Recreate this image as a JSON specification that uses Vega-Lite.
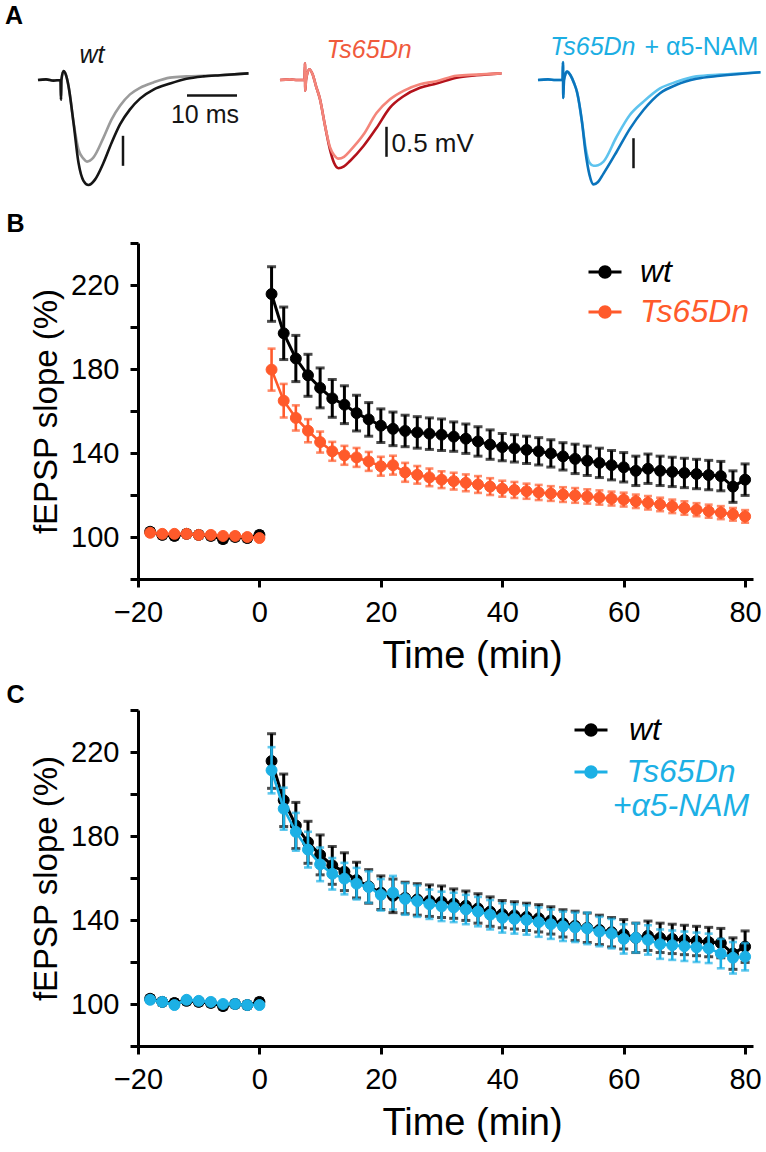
{
"$schema": "https://vega.github.io/schema/vega-lite/v6.json",
"padding": {"left": 5, "top": 4, "right": 0, "bottom": 0},
"config": {"font": "Liberation Sans", "view": {"stroke": null}, "title": {"font": "Liberation Sans", "color": "#000"}},
"datasets": {
"ltp": [
{"g":"wt","s":"pre","t":-18,"m":102.5,"e":1.5},{"g":"wt","s":"pre","t":-16,"m":101,"e":1.5},{"g":"wt","s":"pre","t":-14,"m":100.5,"e":1.5},{"g":"wt","s":"pre","t":-12,"m":101.5,"e":1.5},{"g":"wt","s":"pre","t":-10,"m":101,"e":1.5},{"g":"wt","s":"pre","t":-8,"m":100.5,"e":1.5},{"g":"wt","s":"pre","t":-6,"m":99,"e":1.5},{"g":"wt","s":"pre","t":-4,"m":100,"e":1.5},{"g":"wt","s":"pre","t":-2,"m":99.5,"e":1.5},{"g":"wt","s":"pre","t":0,"m":101,"e":1.5},
{"g":"wt","s":"post","t":2,"m":215.7,"e":13},{"g":"wt","s":"post","t":4,"m":197,"e":12.5},{"g":"wt","s":"post","t":6,"m":185,"e":11},{"g":"wt","s":"post","t":8,"m":177,"e":10},{"g":"wt","s":"post","t":10,"m":171,"e":9.5},{"g":"wt","s":"post","t":12,"m":166,"e":9},{"g":"wt","s":"post","t":14,"m":163,"e":9},{"g":"wt","s":"post","t":16,"m":159,"e":8.5},{"g":"wt","s":"post","t":18,"m":156,"e":8},{"g":"wt","s":"post","t":20,"m":153,"e":8},
{"g":"wt","s":"post","t":22,"m":151.5,"e":8},{"g":"wt","s":"post","t":24,"m":150.5,"e":7.5},{"g":"wt","s":"post","t":26,"m":149.8,"e":7.5},{"g":"wt","s":"post","t":28,"m":149.2,"e":7.5},{"g":"wt","s":"post","t":30,"m":148.7,"e":7.5},{"g":"wt","s":"post","t":32,"m":147.8,"e":7},{"g":"wt","s":"post","t":34,"m":146.8,"e":7},{"g":"wt","s":"post","t":36,"m":145.5,"e":7},{"g":"wt","s":"post","t":38,"m":144,"e":7},{"g":"wt","s":"post","t":40,"m":142.8,"e":6.5},
{"g":"wt","s":"post","t":42,"m":142.2,"e":6.5},{"g":"wt","s":"post","t":44,"m":141.5,"e":6.5},{"g":"wt","s":"post","t":46,"m":140.8,"e":6.5},{"g":"wt","s":"post","t":48,"m":139.8,"e":6.5},{"g":"wt","s":"post","t":50,"m":138.4,"e":6.5},{"g":"wt","s":"post","t":52,"m":137.2,"e":7},{"g":"wt","s":"post","t":54,"m":136.3,"e":7},{"g":"wt","s":"post","t":56,"m":135.3,"e":7},{"g":"wt","s":"post","t":58,"m":134.2,"e":7},{"g":"wt","s":"post","t":60,"m":133.2,"e":7},
{"g":"wt","s":"post","t":62,"m":131.5,"e":7},{"g":"wt","s":"post","t":64,"m":132.5,"e":7},{"g":"wt","s":"post","t":66,"m":131.5,"e":7},{"g":"wt","s":"post","t":68,"m":131,"e":7},{"g":"wt","s":"post","t":70,"m":130.5,"e":7},{"g":"wt","s":"post","t":72,"m":130,"e":7},{"g":"wt","s":"post","t":74,"m":129.5,"e":7},{"g":"wt","s":"post","t":76,"m":129,"e":7},{"g":"wt","s":"post","t":78,"m":124,"e":7.5},{"g":"wt","s":"post","t":80,"m":127.3,"e":7.5},
{"g":"Ts65Dn","s":"pre","t":-18,"m":102,"e":1.2},{"g":"Ts65Dn","s":"pre","t":-16,"m":101.5,"e":1.2},{"g":"Ts65Dn","s":"pre","t":-14,"m":101.5,"e":1.2},{"g":"Ts65Dn","s":"pre","t":-12,"m":101.5,"e":1.2},{"g":"Ts65Dn","s":"pre","t":-10,"m":101,"e":1.2},{"g":"Ts65Dn","s":"pre","t":-8,"m":101,"e":1.2},{"g":"Ts65Dn","s":"pre","t":-6,"m":100.5,"e":1.2},{"g":"Ts65Dn","s":"pre","t":-4,"m":100.5,"e":1.2},{"g":"Ts65Dn","s":"pre","t":-2,"m":100,"e":1.2},{"g":"Ts65Dn","s":"pre","t":0,"m":99.5,"e":1.2},
{"g":"Ts65Dn","s":"post","t":2,"m":179.7,"e":10},{"g":"Ts65Dn","s":"post","t":4,"m":164.9,"e":8},{"g":"Ts65Dn","s":"post","t":6,"m":156.7,"e":6},{"g":"Ts65Dn","s":"post","t":8,"m":150.6,"e":5.5},{"g":"Ts65Dn","s":"post","t":10,"m":145.2,"e":5},{"g":"Ts65Dn","s":"post","t":12,"m":140.8,"e":4.5},{"g":"Ts65Dn","s":"post","t":14,"m":138.9,"e":4.5},{"g":"Ts65Dn","s":"post","t":16,"m":137.9,"e":4.5},{"g":"Ts65Dn","s":"post","t":18,"m":136,"e":4.5},{"g":"Ts65Dn","s":"post","t":20,"m":133.7,"e":4.5},
{"g":"Ts65Dn","s":"post","t":22,"m":134.2,"e":4.5},{"g":"Ts65Dn","s":"post","t":24,"m":130.8,"e":4.5},{"g":"Ts65Dn","s":"post","t":26,"m":129.6,"e":4.2},{"g":"Ts65Dn","s":"post","t":28,"m":128.4,"e":4.2},{"g":"Ts65Dn","s":"post","t":30,"m":127.3,"e":4},{"g":"Ts65Dn","s":"post","t":32,"m":126.6,"e":4},{"g":"Ts65Dn","s":"post","t":34,"m":125.8,"e":4},{"g":"Ts65Dn","s":"post","t":36,"m":125,"e":4},{"g":"Ts65Dn","s":"post","t":38,"m":124,"e":4},{"g":"Ts65Dn","s":"post","t":40,"m":123,"e":3.8},
{"g":"Ts65Dn","s":"post","t":42,"m":122.4,"e":3.8},{"g":"Ts65Dn","s":"post","t":44,"m":121.8,"e":3.6},{"g":"Ts65Dn","s":"post","t":46,"m":121.2,"e":3.6},{"g":"Ts65Dn","s":"post","t":48,"m":120.7,"e":3.5},{"g":"Ts65Dn","s":"post","t":50,"m":120.2,"e":3.5},{"g":"Ts65Dn","s":"post","t":52,"m":119.8,"e":3.5},{"g":"Ts65Dn","s":"post","t":54,"m":119.3,"e":3.4},{"g":"Ts65Dn","s":"post","t":56,"m":118.8,"e":3.4},{"g":"Ts65Dn","s":"post","t":58,"m":118.3,"e":3.3},{"g":"Ts65Dn","s":"post","t":60,"m":117.8,"e":3.3},
{"g":"Ts65Dn","s":"post","t":62,"m":117,"e":3.2},{"g":"Ts65Dn","s":"post","t":64,"m":116.3,"e":3.2},{"g":"Ts65Dn","s":"post","t":66,"m":115.5,"e":3.2},{"g":"Ts65Dn","s":"post","t":68,"m":114.6,"e":3.2},{"g":"Ts65Dn","s":"post","t":70,"m":113.8,"e":3.2},{"g":"Ts65Dn","s":"post","t":72,"m":113,"e":3.1},{"g":"Ts65Dn","s":"post","t":74,"m":112.3,"e":3.1},{"g":"Ts65Dn","s":"post","t":76,"m":111.6,"e":3.1},{"g":"Ts65Dn","s":"post","t":78,"m":110.8,"e":3},{"g":"Ts65Dn","s":"post","t":80,"m":109.8,"e":3},
{"g":"NAM","s":"pre","t":-18,"m":102,"e":1.3},{"g":"NAM","s":"pre","t":-16,"m":101,"e":1.3},{"g":"NAM","s":"pre","t":-14,"m":99.5,"e":1.3},{"g":"NAM","s":"pre","t":-12,"m":102,"e":1.3},{"g":"NAM","s":"pre","t":-10,"m":101.5,"e":1.3},{"g":"NAM","s":"pre","t":-8,"m":101,"e":1.3},{"g":"NAM","s":"pre","t":-6,"m":100,"e":1.3},{"g":"NAM","s":"pre","t":-4,"m":100,"e":1.3},{"g":"NAM","s":"pre","t":-2,"m":99.5,"e":1.3},{"g":"NAM","s":"pre","t":0,"m":99.5,"e":1.3},
{"g":"NAM","s":"post","t":2,"m":211.3,"e":11},{"g":"NAM","s":"post","t":4,"m":193,"e":10},{"g":"NAM","s":"post","t":6,"m":182,"e":9},{"g":"NAM","s":"post","t":8,"m":173.5,"e":8.5},{"g":"NAM","s":"post","t":10,"m":166.5,"e":8},{"g":"NAM","s":"post","t":12,"m":162,"e":7.5},{"g":"NAM","s":"post","t":14,"m":159.7,"e":7.5},{"g":"NAM","s":"post","t":16,"m":157.3,"e":7.5},{"g":"NAM","s":"post","t":18,"m":155.7,"e":7.5},{"g":"NAM","s":"post","t":20,"m":152,"e":7.5},
{"g":"NAM","s":"post","t":22,"m":153,"e":8},{"g":"NAM","s":"post","t":24,"m":150,"e":7.5},{"g":"NAM","s":"post","t":26,"m":149,"e":7.5},{"g":"NAM","s":"post","t":28,"m":147.5,"e":7},{"g":"NAM","s":"post","t":30,"m":146.5,"e":7},{"g":"NAM","s":"post","t":32,"m":146,"e":7},{"g":"NAM","s":"post","t":34,"m":145,"e":7},{"g":"NAM","s":"post","t":36,"m":144,"e":7},{"g":"NAM","s":"post","t":38,"m":142.5,"e":7},{"g":"NAM","s":"post","t":40,"m":141,"e":7},
{"g":"NAM","s":"post","t":42,"m":140.5,"e":7},{"g":"NAM","s":"post","t":44,"m":140,"e":7},{"g":"NAM","s":"post","t":46,"m":139,"e":7},{"g":"NAM","s":"post","t":48,"m":138,"e":7},{"g":"NAM","s":"post","t":50,"m":137,"e":7},{"g":"NAM","s":"post","t":52,"m":136.5,"e":7},{"g":"NAM","s":"post","t":54,"m":136,"e":7.5},{"g":"NAM","s":"post","t":56,"m":134.5,"e":7},{"g":"NAM","s":"post","t":58,"m":133.5,"e":7},{"g":"NAM","s":"post","t":60,"m":131,"e":7},
{"g":"NAM","s":"post","t":62,"m":131.5,"e":7},{"g":"NAM","s":"post","t":64,"m":130.5,"e":7},{"g":"NAM","s":"post","t":66,"m":128.5,"e":7},{"g":"NAM","s":"post","t":68,"m":128,"e":7},{"g":"NAM","s":"post","t":70,"m":127.5,"e":7},{"g":"NAM","s":"post","t":72,"m":127,"e":7},{"g":"NAM","s":"post","t":74,"m":126.5,"e":7},{"g":"NAM","s":"post","t":76,"m":124,"e":7},{"g":"NAM","s":"post","t":78,"m":122,"e":7.5},{"g":"NAM","s":"post","t":80,"m":122.5,"e":6.5}
],
"traces": [
{"p":"wt","tr":"pre","t":-4.6,"v":0},{"p":"wt","tr":"pre","t":-3,"v":0.01},{"p":"wt","tr":"pre","t":-1.5,"v":-0.01},{"p":"wt","tr":"pre","t":-0.1,"v":0},{"p":"wt","tr":"pre","t":0,"v":-0.33},{"p":"wt","tr":"pre","t":0.08,"v":0},{"p":"wt","tr":"pre","t":0.5,"v":0.15},{"p":"wt","tr":"pre","t":1.0,"v":0.08},{"p":"wt","tr":"pre","t":1.5,"v":-0.1},{"p":"wt","tr":"pre","t":2.5,"v":-0.7},
{"p":"wt","tr":"pre","t":3.5,"v":-1.16},{"p":"wt","tr":"pre","t":4.5,"v":-1.31},{"p":"wt","tr":"pre","t":5.2,"v":-1.36},{"p":"wt","tr":"pre","t":6.5,"v":-1.29},{"p":"wt","tr":"pre","t":8.5,"v":-0.96},{"p":"wt","tr":"pre","t":10.1,"v":-0.66},{"p":"wt","tr":"pre","t":11.8,"v":-0.43},{"p":"wt","tr":"pre","t":13.8,"v":-0.24},{"p":"wt","tr":"pre","t":15.8,"v":-0.13},{"p":"wt","tr":"pre","t":18.5,"v":-0.04},{"p":"wt","tr":"pre","t":21.8,"v":0.04},{"p":"wt","tr":"pre","t":25.1,"v":0.06},{"p":"wt","tr":"pre","t":28.5,"v":0.07},{"p":"wt","tr":"pre","t":31.8,"v":0.08},{"p":"wt","tr":"pre","t":37.5,"v":0.11},
{"p":"wt","tr":"post","t":-4.6,"v":0},{"p":"wt","tr":"post","t":-3,"v":0.01},{"p":"wt","tr":"post","t":-1.5,"v":-0.01},{"p":"wt","tr":"post","t":-0.1,"v":0},{"p":"wt","tr":"post","t":0,"v":-0.33},{"p":"wt","tr":"post","t":0.08,"v":0},{"p":"wt","tr":"post","t":0.5,"v":0.15},{"p":"wt","tr":"post","t":1.0,"v":0.08},{"p":"wt","tr":"post","t":1.5,"v":-0.1},{"p":"wt","tr":"post","t":2.5,"v":-0.71},
{"p":"wt","tr":"post","t":3.5,"v":-1.38},{"p":"wt","tr":"post","t":4.5,"v":-1.68},{"p":"wt","tr":"post","t":5.5,"v":-1.75},{"p":"wt","tr":"post","t":6.8,"v":-1.66},{"p":"wt","tr":"post","t":8.5,"v":-1.38},{"p":"wt","tr":"post","t":10.1,"v":-1.05},{"p":"wt","tr":"post","t":11.8,"v":-0.74},{"p":"wt","tr":"post","t":13.8,"v":-0.49},{"p":"wt","tr":"post","t":15.8,"v":-0.31},{"p":"wt","tr":"post","t":18.5,"v":-0.16},{"p":"wt","tr":"post","t":21.8,"v":-0.06},{"p":"wt","tr":"post","t":25.1,"v":0.02},{"p":"wt","tr":"post","t":28.5,"v":0.06},{"p":"wt","tr":"post","t":31.8,"v":0.08},{"p":"wt","tr":"post","t":37.5,"v":0.11},
{"p":"ts","tr":"pre","t":-5,"v":0},{"p":"ts","tr":"pre","t":-3,"v":0.01},{"p":"ts","tr":"pre","t":-1.5,"v":0},{"p":"ts","tr":"pre","t":-0.1,"v":0},{"p":"ts","tr":"pre","t":0,"v":0.28},{"p":"ts","tr":"pre","t":0.05,"v":-0.18},{"p":"ts","tr":"pre","t":0.2,"v":0},{"p":"ts","tr":"pre","t":0.87,"v":0.18},{"p":"ts","tr":"pre","t":1.5,"v":0.1},{"p":"ts","tr":"pre","t":2.2,"v":-0.1},{"p":"ts","tr":"pre","t":3,"v":-0.32},{"p":"ts","tr":"pre","t":4,"v":-0.76},{"p":"ts","tr":"pre","t":5,"v":-1.12},
{"p":"ts","tr":"pre","t":5.8,"v":-1.25},{"p":"ts","tr":"pre","t":6.7,"v":-1.31},{"p":"ts","tr":"pre","t":7.8,"v":-1.28},{"p":"ts","tr":"pre","t":9,"v":-1.18},{"p":"ts","tr":"pre","t":11.7,"v":-0.91},{"p":"ts","tr":"pre","t":14.3,"v":-0.55},{"p":"ts","tr":"pre","t":17,"v":-0.32},{"p":"ts","tr":"pre","t":19.7,"v":-0.18},{"p":"ts","tr":"pre","t":23,"v":-0.07},{"p":"ts","tr":"pre","t":26.3,"v":-0.02},{"p":"ts","tr":"pre","t":30.3,"v":0.07},{"p":"ts","tr":"pre","t":34.3,"v":0.09},{"p":"ts","tr":"pre","t":39.3,"v":0.11},
{"p":"ts","tr":"post","t":-5,"v":0},{"p":"ts","tr":"post","t":-3,"v":0.01},{"p":"ts","tr":"post","t":-1.5,"v":0},{"p":"ts","tr":"post","t":-0.1,"v":0},{"p":"ts","tr":"post","t":0,"v":0.28},{"p":"ts","tr":"post","t":0.05,"v":-0.18},{"p":"ts","tr":"post","t":0.2,"v":0},{"p":"ts","tr":"post","t":0.87,"v":0.18},{"p":"ts","tr":"post","t":1.5,"v":0.1},{"p":"ts","tr":"post","t":2.2,"v":-0.1},{"p":"ts","tr":"post","t":3,"v":-0.32},{"p":"ts","tr":"post","t":4,"v":-0.76},{"p":"ts","tr":"post","t":5,"v":-1.16},
{"p":"ts","tr":"post","t":5.8,"v":-1.38},{"p":"ts","tr":"post","t":6.7,"v":-1.47},{"p":"ts","tr":"post","t":7.8,"v":-1.44},{"p":"ts","tr":"post","t":9,"v":-1.35},{"p":"ts","tr":"post","t":11.7,"v":-1.1},{"p":"ts","tr":"post","t":14.3,"v":-0.8},{"p":"ts","tr":"post","t":17,"v":-0.46},{"p":"ts","tr":"post","t":19.7,"v":-0.27},{"p":"ts","tr":"post","t":23,"v":-0.13},{"p":"ts","tr":"post","t":26.3,"v":-0.06},{"p":"ts","tr":"post","t":30.3,"v":0.04},{"p":"ts","tr":"post","t":34.3,"v":0.08},{"p":"ts","tr":"post","t":39.3,"v":0.11},
{"p":"nam","tr":"pre","t":-5,"v":0},{"p":"nam","tr":"pre","t":-3,"v":0.01},{"p":"nam","tr":"pre","t":-1.5,"v":0},{"p":"nam","tr":"pre","t":-0.1,"v":0},{"p":"nam","tr":"pre","t":0,"v":0.3},{"p":"nam","tr":"pre","t":0.05,"v":-0.3},{"p":"nam","tr":"pre","t":0.2,"v":0},{"p":"nam","tr":"pre","t":0.8,"v":0.14},{"p":"nam","tr":"pre","t":1.5,"v":0.08},{"p":"nam","tr":"pre","t":2.2,"v":-0.05},{"p":"nam","tr":"pre","t":2.8,"v":-0.2},{"p":"nam","tr":"pre","t":3.8,"v":-0.7},{"p":"nam","tr":"pre","t":4.5,"v":-1.12},
{"p":"nam","tr":"pre","t":5.3,"v":-1.38},{"p":"nam","tr":"pre","t":6.1,"v":-1.43},{"p":"nam","tr":"pre","t":7,"v":-1.42},{"p":"nam","tr":"pre","t":8.1,"v":-1.36},{"p":"nam","tr":"pre","t":10.7,"v":-0.95},{"p":"nam","tr":"pre","t":13.4,"v":-0.58},{"p":"nam","tr":"pre","t":16.1,"v":-0.36},{"p":"nam","tr":"pre","t":19.4,"v":-0.14},{"p":"nam","tr":"pre","t":22.7,"v":-0.03},{"p":"nam","tr":"pre","t":26.7,"v":0.06},{"p":"nam","tr":"pre","t":31.4,"v":0.09},{"p":"nam","tr":"pre","t":39.5,"v":0.13},
{"p":"nam","tr":"post","t":-5,"v":0},{"p":"nam","tr":"post","t":-3,"v":0.01},{"p":"nam","tr":"post","t":-1.5,"v":0},{"p":"nam","tr":"post","t":-0.1,"v":0},{"p":"nam","tr":"post","t":0,"v":0.3},{"p":"nam","tr":"post","t":0.05,"v":-0.3},{"p":"nam","tr":"post","t":0.2,"v":0},{"p":"nam","tr":"post","t":0.8,"v":0.14},{"p":"nam","tr":"post","t":1.5,"v":0.08},{"p":"nam","tr":"post","t":2.2,"v":-0.05},{"p":"nam","tr":"post","t":2.8,"v":-0.2},{"p":"nam","tr":"post","t":3.8,"v":-0.7},{"p":"nam","tr":"post","t":4.5,"v":-1.2},
{"p":"nam","tr":"post","t":5.3,"v":-1.58},{"p":"nam","tr":"post","t":6.1,"v":-1.74},{"p":"nam","tr":"post","t":7,"v":-1.7},{"p":"nam","tr":"post","t":8.1,"v":-1.56},{"p":"nam","tr":"post","t":10.7,"v":-1.2},{"p":"nam","tr":"post","t":13.4,"v":-0.81},{"p":"nam","tr":"post","t":16.1,"v":-0.5},{"p":"nam","tr":"post","t":19.4,"v":-0.22},{"p":"nam","tr":"post","t":22.7,"v":-0.08},{"p":"nam","tr":"post","t":26.7,"v":0.02},{"p":"nam","tr":"post","t":31.4,"v":0.07},{"p":"nam","tr":"post","t":39.5,"v":0.13}
],
"one": [{"k": 1}]
},
"columns": 1,
"align": "none",
"spacing": 8,
"resolve": {"scale": {"x": "independent", "y": "independent", "fill": "independent", "stroke": "independent"}, "axis": {"x": "independent", "y": "independent"}, "legend": {"fill": "independent", "stroke": "independent"}},
"concat": [
{
"hconcat": [
{
"width": 142, "height": 168.8,
"title": {"text": "A", "anchor": "start", "frame": "group", "fontSize": 25, "fontWeight": "bold", "dx": -133, "offset": 6},
"layer": [
{"data": {"name": "traces"}, "transform": [{"filter": "datum.p == 'wt' && datum.tr == 'pre'"}], "mark": {"type": "line", "color": "#9b9b9b", "strokeWidth": 2.6, "interpolate": "monotone"},
"encoding": {"x": {"field": "t", "type": "quantitative", "scale": {"domain": [-5, 43.8], "range": [-102, 142], "nice": false, "zero": false}, "axis": null}, "y": {"field": "v", "type": "quantitative", "scale": {"domain": [-2.063, 0.75], "nice": false, "zero": false}, "axis": null}}},
{"data": {"name": "traces"}, "transform": [{"filter": "datum.p == 'wt' && datum.tr == 'post'"}], "mark": {"type": "line", "color": "#151515", "strokeWidth": 2.6, "interpolate": "monotone"},
"encoding": {"x": {"field": "t", "type": "quantitative"}, "y": {"field": "v", "type": "quantitative"}}},
{"data": {"name": "one"}, "mark": {"type": "text", "text": "wt", "fontSize": 25, "fontStyle": "italic", "color": "#151515", "align": "center", "baseline": "middle"}, "encoding": {"x": {"datum": 6.2, "type": "quantitative"}, "y": {"datum": 0.42, "type": "quantitative"}}},
{"data": {"name": "one"}, "mark": {"type": "rule", "color": "#151515", "strokeWidth": 2.5}, "encoding": {"x": {"datum": 25.2, "type": "quantitative"}, "x2": {"datum": 35.2}, "y": {"datum": -0.26, "type": "quantitative"}}},
{"data": {"name": "one"}, "mark": {"type": "rule", "color": "#151515", "strokeWidth": 2.5}, "encoding": {"x": {"datum": 12.4, "type": "quantitative"}, "y": {"datum": -0.93, "type": "quantitative"}, "y2": {"datum": -1.43}}},
{"data": {"name": "one"}, "mark": {"type": "text", "text": "10 ms", "fontSize": 25, "color": "#151515", "align": "center", "baseline": "middle"}, "encoding": {"x": {"datum": 28.8, "type": "quantitative"}, "y": {"datum": -0.58, "type": "quantitative"}}}
]
},
{
"width": 257.5, "height": 168.8,
"layer": [
{"data": {"name": "traces"}, "transform": [{"filter": "datum.p == 'ts' && datum.tr == 'post'"}], "mark": {"type": "line", "color": "#b3121b", "strokeWidth": 2.6, "interpolate": "monotone"},
"encoding": {"x": {"field": "t", "type": "quantitative", "scale": {"domain": [-5, 46.5], "nice": false, "zero": false}, "axis": null}, "y": {"field": "v", "type": "quantitative", "scale": {"domain": [-2.063, 0.75], "nice": false, "zero": false}, "axis": null}}},
{"data": {"name": "traces"}, "transform": [{"filter": "datum.p == 'ts' && datum.tr == 'pre'"}], "mark": {"type": "line", "color": "#f4857a", "strokeWidth": 2.6, "interpolate": "monotone"},
"encoding": {"x": {"field": "t", "type": "quantitative"}, "y": {"field": "v", "type": "quantitative"}}},
{"data": {"name": "one"}, "mark": {"type": "text", "text": "Ts65Dn", "fontSize": 25, "fontStyle": "italic", "color": "#f05a3c", "align": "center", "baseline": "middle"}, "encoding": {"x": {"datum": 12.8, "type": "quantitative"}, "y": {"datum": 0.5, "type": "quantitative"}}},
{"data": {"name": "one"}, "mark": {"type": "rule", "color": "#151515", "strokeWidth": 2.5}, "encoding": {"x": {"datum": 16.3, "type": "quantitative"}, "y": {"datum": -0.78, "type": "quantitative"}, "y2": {"datum": -1.28}}},
{"data": {"name": "one"}, "mark": {"type": "text", "text": "0.5 mV", "fontSize": 26, "color": "#151515", "align": "left", "baseline": "middle"}, "encoding": {"x": {"datum": 17.3, "type": "quantitative"}, "y": {"datum": -1.06, "type": "quantitative"}}}
]
},
{
"width": 227.5, "height": 168.8,
"layer": [
{"data": {"name": "traces"}, "transform": [{"filter": "datum.p == 'nam' && datum.tr == 'pre'"}], "mark": {"type": "line", "color": "#5ec3ee", "strokeWidth": 2.6, "interpolate": "monotone"},
"encoding": {"x": {"field": "t", "type": "quantitative", "scale": {"domain": [-5, 40.5], "nice": false, "zero": false}, "axis": null}, "y": {"field": "v", "type": "quantitative", "scale": {"domain": [-2.063, 0.75], "nice": false, "zero": false}, "axis": null}}},
{"data": {"name": "traces"}, "transform": [{"filter": "datum.p == 'nam' && datum.tr == 'post'"}], "mark": {"type": "line", "color": "#0b74bc", "strokeWidth": 2.6, "interpolate": "monotone"},
"encoding": {"x": {"field": "t", "type": "quantitative"}, "y": {"field": "v", "type": "quantitative"}}},
{"data": {"name": "one"}, "mark": {"type": "text", "text": "Ts65Dn", "fontSize": 25, "fontStyle": "italic", "color": "#1baee3", "align": "right", "baseline": "middle"}, "encoding": {"x": {"datum": 14.5, "type": "quantitative"}, "y": {"datum": 0.55, "type": "quantitative"}}},
{"data": {"name": "one"}, "mark": {"type": "text", "text": "+ α5-NAM", "fontSize": 25, "color": "#1baee3", "align": "left", "baseline": "middle"}, "encoding": {"x": {"datum": 16.3, "type": "quantitative"}, "y": {"datum": 0.55, "type": "quantitative"}}},
{"data": {"name": "one"}, "mark": {"type": "rule", "color": "#151515", "strokeWidth": 2.5}, "encoding": {"x": {"datum": 14.1, "type": "quantitative"}, "y": {"datum": -0.97, "type": "quantitative"}, "y2": {"datum": -1.47}}}
]
}
],
"spacing": 0,
"bounds": "flush",
"resolve": {"scale": {"x": "independent", "y": "independent"}}
},
{
"width": 615, "height": 336,
"title": {"text": "B", "anchor": "start", "frame": "bounds", "fontSize": 25, "fontWeight": "bold", "dx": -24, "offset": -8},
"data": {"name": "ltp"},
"encoding": {
"x": {"field": "t", "type": "quantitative", "scale": {"domain": [-20, 81.3], "nice": false, "zero": false},
"axis": {"values": [-20, 0, 20, 40, 60, 80], "title": "Time (min)", "titleFontSize": 38, "titleFontWeight": "normal", "titleColor": "#000", "titleX": 334, "labelFontSize": 29, "labelColor": "#000", "labelPadding": 11, "titlePadding": 10, "tickSize": 8, "tickWidth": 3, "tickColor": "#000", "domainWidth": 3, "domainColor": "#000", "grid": false, "labelFlush": false, "labelOverlap": false}},
"y": {"field": "m", "type": "quantitative", "scale": {"domain": [80, 240], "nice": false, "zero": false},
"axis": {"values": [80, 100, 120, 140, 160, 180, 200, 220, 240], "labelExpr": "datum.value % 40 == 20 ? datum.label : ''", "title": "fEPSP slope (%)", "titleFontSize": 33, "titleFontWeight": "normal", "titleColor": "#000", "labelFontSize": 29, "labelColor": "#000", "labelPadding": 11, "titlePadding": 7, "tickSize": 8, "tickWidth": 3, "tickColor": "#000", "domainWidth": 3, "domainColor": "#000", "grid": false, "labelOverlap": false}}
},
"layer": [
{"transform": [{"filter": "datum.g == 'wt'"}], "mark": {"type": "line", "color": "#000000", "strokeWidth": 3}, "encoding": {"detail": {"field": "s"}}},
{"transform": [{"filter": "datum.g == 'wt'"}], "mark": {"type": "errorbar", "ticks": true, "size": 9, "thickness": 3, "color": "#000000"}, "encoding": {"yError": {"field": "e"}}},
{"transform": [{"filter": "datum.g == 'wt'"}], "mark": {"type": "point", "filled": true, "size": 120, "opacity": 1, "strokeWidth": 1},
"encoding": {
"fill": {"field": "g", "type": "nominal", "scale": {"domain": ["wt", "Ts65Dn"], "range": ["#000000", "#ff5a2b"]}, "legend": {"orient": "none", "legendX": 449, "legendY": 11, "title": null, "symbolType": "M-1,0H1M0.32,0A0.32,0.32,0,1,1,-0.32,0A0.32,0.32,0,1,1,0.32,0Z", "symbolSize": 1089, "symbolStrokeWidth": 3, "labelFontSize": 32, "labelFontStyle": "italic", "labelOffset": 17, "rowPadding": 6, "labelLimit": 300, "labelColor": {"expr": "datum.value == 'wt' ? '#000000' : '#ff5a2b'"}}},
"stroke": {"field": "g", "type": "nominal", "scale": {"domain": ["wt", "Ts65Dn"], "range": ["#000000", "#ff5a2b"]}, "legend": {"orient": "none", "legendX": 449, "legendY": 11, "title": null, "symbolType": "M-1,0H1M0.32,0A0.32,0.32,0,1,1,-0.32,0A0.32,0.32,0,1,1,0.32,0Z", "symbolSize": 1089, "symbolStrokeWidth": 3, "labelFontSize": 32, "labelFontStyle": "italic", "labelOffset": 17, "rowPadding": 6, "labelLimit": 300, "labelColor": {"expr": "datum.value == 'wt' ? '#000000' : '#ff5a2b'"}}}
}},
{"transform": [{"filter": "datum.g == 'Ts65Dn'"}], "mark": {"type": "line", "color": "#ff5a2b", "strokeWidth": 2.6}, "encoding": {"detail": {"field": "s"}}},
{"transform": [{"filter": "datum.g == 'Ts65Dn'"}], "mark": {"type": "errorbar", "ticks": true, "size": 8, "thickness": 2.6, "color": "#ff5a2b"}, "encoding": {"yError": {"field": "e"}}},
{"transform": [{"filter": "datum.g == 'Ts65Dn'"}], "mark": {"type": "point", "filled": true, "size": 120, "opacity": 1, "strokeWidth": 1},
"encoding": {
"fill": {"field": "g", "type": "nominal"},
"stroke": {"field": "g", "type": "nominal"}
}}
]
},
{
"width": 615, "height": 336,
"title": {"text": "C", "anchor": "start", "frame": "bounds", "fontSize": 25, "fontWeight": "bold", "dx": -24, "offset": -12},
"data": {"name": "ltp"},
"encoding": {
"x": {"field": "t", "type": "quantitative", "scale": {"domain": [-20, 81.3], "nice": false, "zero": false},
"axis": {"values": [-20, 0, 20, 40, 60, 80], "title": "Time (min)", "titleFontSize": 38, "titleFontWeight": "normal", "titleColor": "#000", "titleX": 334, "labelFontSize": 29, "labelColor": "#000", "labelPadding": 11, "titlePadding": 10, "tickSize": 8, "tickWidth": 3, "tickColor": "#000", "domainWidth": 3, "domainColor": "#000", "grid": false, "labelFlush": false, "labelOverlap": false}},
"y": {"field": "m", "type": "quantitative", "scale": {"domain": [80, 240], "nice": false, "zero": false},
"axis": {"values": [80, 100, 120, 140, 160, 180, 200, 220, 240], "labelExpr": "datum.value % 40 == 20 ? datum.label : ''", "title": "fEPSP slope (%)", "titleFontSize": 33, "titleFontWeight": "normal", "titleColor": "#000", "labelFontSize": 29, "labelColor": "#000", "labelPadding": 11, "titlePadding": 7, "tickSize": 8, "tickWidth": 3, "tickColor": "#000", "domainWidth": 3, "domainColor": "#000", "grid": false, "labelOverlap": false}}
},
"layer": [
{"transform": [{"filter": "datum.g == 'wt'"}], "mark": {"type": "line", "color": "#000000", "strokeWidth": 3}, "encoding": {"detail": {"field": "s"}}},
{"transform": [{"filter": "datum.g == 'wt'"}], "mark": {"type": "errorbar", "ticks": true, "size": 9, "thickness": 3, "color": "#000000"}, "encoding": {"yError": {"field": "e"}}},
{"transform": [{"filter": "datum.g == 'wt'"}], "mark": {"type": "point", "filled": true, "size": 120, "opacity": 1, "strokeWidth": 1},
"encoding": {
"fill": {"field": "g", "type": "nominal", "scale": {"domain": ["wt", "NAM"], "range": ["#000000", "#1cb0e5"]}, "legend": {"orient": "none", "legendX": 435, "legendY": 2, "title": null, "symbolType": "M-1,0H1M0.32,0A0.32,0.32,0,1,1,-0.32,0A0.32,0.32,0,1,1,0.32,0Z", "symbolSize": 1089, "symbolStrokeWidth": 3, "labelFontSize": 32, "labelFontStyle": "italic", "labelOffset": {"expr": "datum.value == 'NAM' ? 72 : 20"}, "labelAlign": {"expr": "datum.value == 'NAM' ? 'center' : 'left'"}, "rowPadding": 8, "labelLimit": 300, "labelExpr": "datum.value == 'NAM' ? ['Ts65Dn', '+α5-NAM'] : datum.label", "labelColor": {"expr": "datum.value == 'wt' ? '#000000' : '#1cb0e5'"}}},
"stroke": {"field": "g", "type": "nominal", "scale": {"domain": ["wt", "NAM"], "range": ["#000000", "#1cb0e5"]}, "legend": {"orient": "none", "legendX": 435, "legendY": 2, "title": null, "symbolType": "M-1,0H1M0.32,0A0.32,0.32,0,1,1,-0.32,0A0.32,0.32,0,1,1,0.32,0Z", "symbolSize": 1089, "symbolStrokeWidth": 3, "labelFontSize": 32, "labelFontStyle": "italic", "labelOffset": {"expr": "datum.value == 'NAM' ? 72 : 20"}, "labelAlign": {"expr": "datum.value == 'NAM' ? 'center' : 'left'"}, "rowPadding": 8, "labelLimit": 300, "labelExpr": "datum.value == 'NAM' ? ['Ts65Dn', '+α5-NAM'] : datum.label", "labelColor": {"expr": "datum.value == 'wt' ? '#000000' : '#1cb0e5'"}}}
}},
{"transform": [{"filter": "datum.g == 'NAM'"}], "mark": {"type": "line", "color": "#1cb0e5", "strokeWidth": 2.6}, "encoding": {"detail": {"field": "s"}}},
{"transform": [{"filter": "datum.g == 'NAM'"}], "mark": {"type": "errorbar", "ticks": true, "size": 8, "thickness": 2.6, "color": "#1cb0e5"}, "encoding": {"yError": {"field": "e"}}},
{"transform": [{"filter": "datum.g == 'NAM'"}], "mark": {"type": "point", "filled": true, "size": 120, "opacity": 1, "strokeWidth": 1},
"encoding": {
"fill": {"field": "g", "type": "nominal"},
"stroke": {"field": "g", "type": "nominal"}
}}
]
}
]
}
